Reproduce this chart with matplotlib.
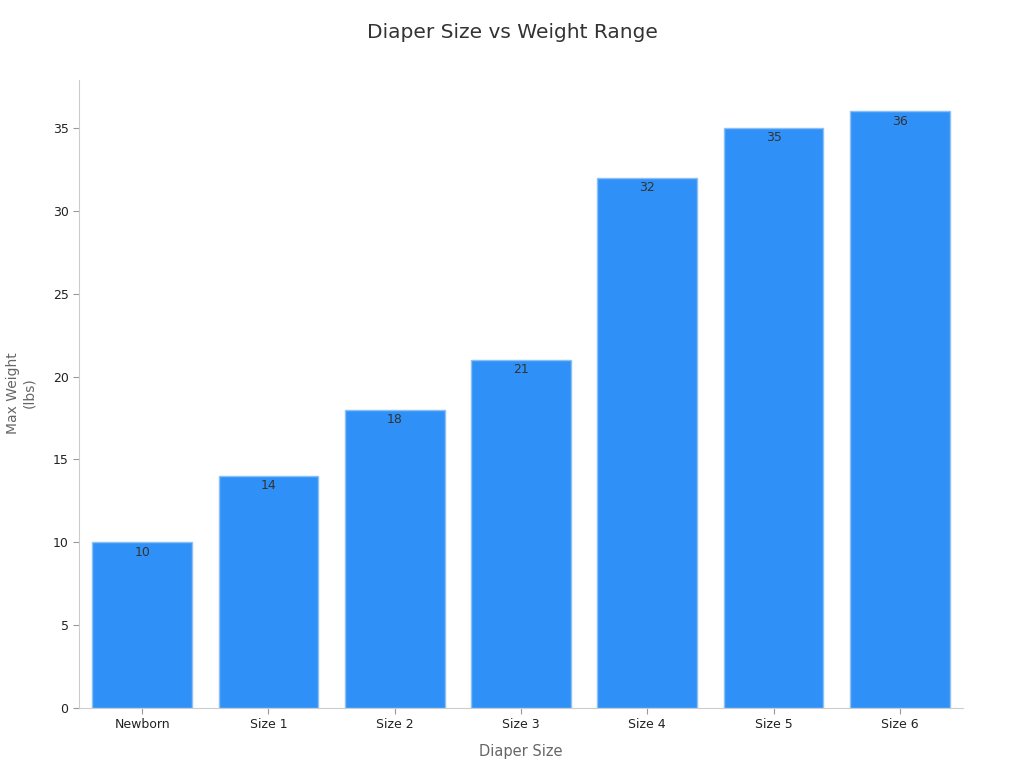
import matplotlib
matplotlib.use("Agg")
import matplotlib.pyplot as plt

categories = ["Newborn", "Size 1", "Size 2", "Size 3", "Size 4", "Size 5", "Size 6"]
max_weight = [10, 14, 18, 21, 32, 35, 36]

plt.rcParams['font.family'] = ['DejaVu Sans']

fig = plt.figure(figsize=(10.24, 7.68), dpi=100)
ax = fig.add_axes([79/1024, 1 - 708/768, (963-79)/1024, (708-80)/768])

x = list(range(len(categories)))
bars = ax.bar(x, max_weight, width=0.79, color="#2F91F7", edgecolor="#8CC0F5", linewidth=1)

for xi, v in zip(x, max_weight):
    ax.annotate(str(v), (xi, v), xytext=(0, -7), textcoords="offset points",
                ha="center", va="center", fontsize=9, color="#333333")

ax.set_xlim(-0.5, len(categories) - 0.5)
ax.set_ylim(0, 37.9)
ax.set_xticks(x)
ax.set_xticklabels(categories)
ax.set_yticks([0, 5, 10, 15, 20, 25, 30, 35])
ax.tick_params(axis="both", labelsize=9, colors="#222222", length=4, color="#999999")
for s in ["top", "right"]:
    ax.spines[s].set_visible(False)
for s in ["left", "bottom"]:
    ax.spines[s].set_color("#cccccc")

ax.set_xlabel("Diaper Size", fontsize=10.5, color="#666666", labelpad=9)
ax.set_ylabel("Max Weight\n(lbs)", fontsize=10, color="#666666", ha="center", va="center")
ax.yaxis.set_label_coords((21 - 79) / 884, (708 - 393) / 628)
fig.text(0.5, 1 - 33/768, "Diaper Size vs Weight Range", ha="center", va="center",
         fontsize=14.5, color="#333333")

fig.savefig("out.png", dpi=100)
